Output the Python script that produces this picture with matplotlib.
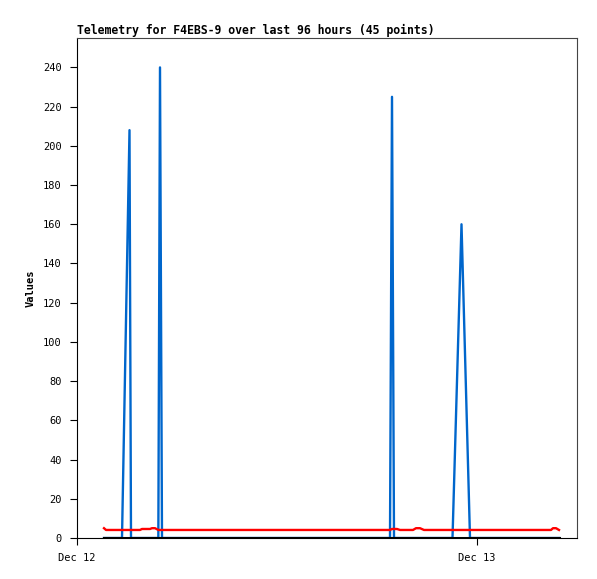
import pandas as pd
import matplotlib
matplotlib.use("Agg")
import matplotlib.pyplot as plt
import matplotlib.dates as mdates

# hours after Dec 12 00:00 for each of the 45 samples
hours = [1.62, 1.74, 2.22, 2.70, 3.15, 3.24, 3.78, 3.90, 4.38, 4.50,
         4.68, 4.88, 4.98, 5.10, 5.88, 7.08, 8.28, 9.48, 10.68, 11.88,
         13.08, 14.28, 15.48, 16.68, 17.88, 18.78, 18.90, 19.02, 19.20, 19.38,
         20.16, 20.34, 20.58, 20.82, 21.66, 22.53, 23.07, 23.58, 24.78, 25.98,
         27.18, 28.44, 28.56, 28.74, 28.92]

blue_vals = [0, 0, 0, 0, 208, 0, 0, 0, 0, 0,
             0, 0, 240, 0, 0, 0, 0, 0, 0, 0,
             0, 0, 0, 0, 0, 0, 225, 0, 0, 0,
             0, 0, 0, 0, 0, 0, 160, 0, 0, 0,
             0, 0, 0, 0, 0]

red_vals = [5.0, 4.1, 4.1, 4.1, 4.1, 4.1, 4.1, 4.6, 4.6, 5.0,
            5.0, 4.1, 4.1, 4.1, 4.1, 4.1, 4.1, 4.1, 4.1, 4.1,
            4.1, 4.1, 4.1, 4.1, 4.1, 4.1, 4.6, 4.6, 4.6, 4.1,
            4.1, 5.0, 5.0, 4.1, 4.1, 4.1, 4.1, 4.1, 4.1, 4.1,
            4.1, 4.1, 5.0, 5.0, 4.1]

black_vals = [0] * 45

start = pd.Timestamp("2023-12-12 00:00")
times = [start + pd.Timedelta(hours=h) for h in hours]

mono = "DejaVu Sans Mono"

fig = plt.figure(figsize=(5.97, 5.79), dpi=100)
ax = fig.add_axes([77 / 597, 1 - 538 / 579, 500 / 597, 500 / 579])

ax.plot(times, blue_vals, color="#0066cc", lw=1.7)
ax.plot(times, red_vals, color="#ff0000", lw=1.7)
ax.plot(times, black_vals, color="#000000", lw=2.2)

ax.set_xlim(start, start + pd.Timedelta(hours=30))
ax.set_ylim(0, 255)
ax.set_yticks(range(0, 241, 20))
ax.xaxis.set_major_locator(mdates.DayLocator())
ax.xaxis.set_major_formatter(mdates.DateFormatter("%b %d"))

ax.tick_params(axis="both", direction="out", length=5, width=0.8, labelsize=7.5, pad=6)
for lbl in ax.get_xticklabels() + ax.get_yticklabels():
    lbl.set_family(mono)

for side in ["top", "right"]:
    ax.spines[side].set_color("#444444")
for side in ["left", "bottom"]:
    ax.spines[side].set_color("#000000")
for sp in ax.spines.values():
    sp.set_linewidth(0.8)

ax.set_ylabel("Values", family=mono, fontweight="bold", fontsize=7.5, labelpad=5)
ax.set_title("Telemetry for F4EBS-9 over last 96 hours (45 points)", loc="left",
             family=mono, fontweight="bold", fontsize=8.3, pad=3)

fig.savefig("out.png", dpi=100)
